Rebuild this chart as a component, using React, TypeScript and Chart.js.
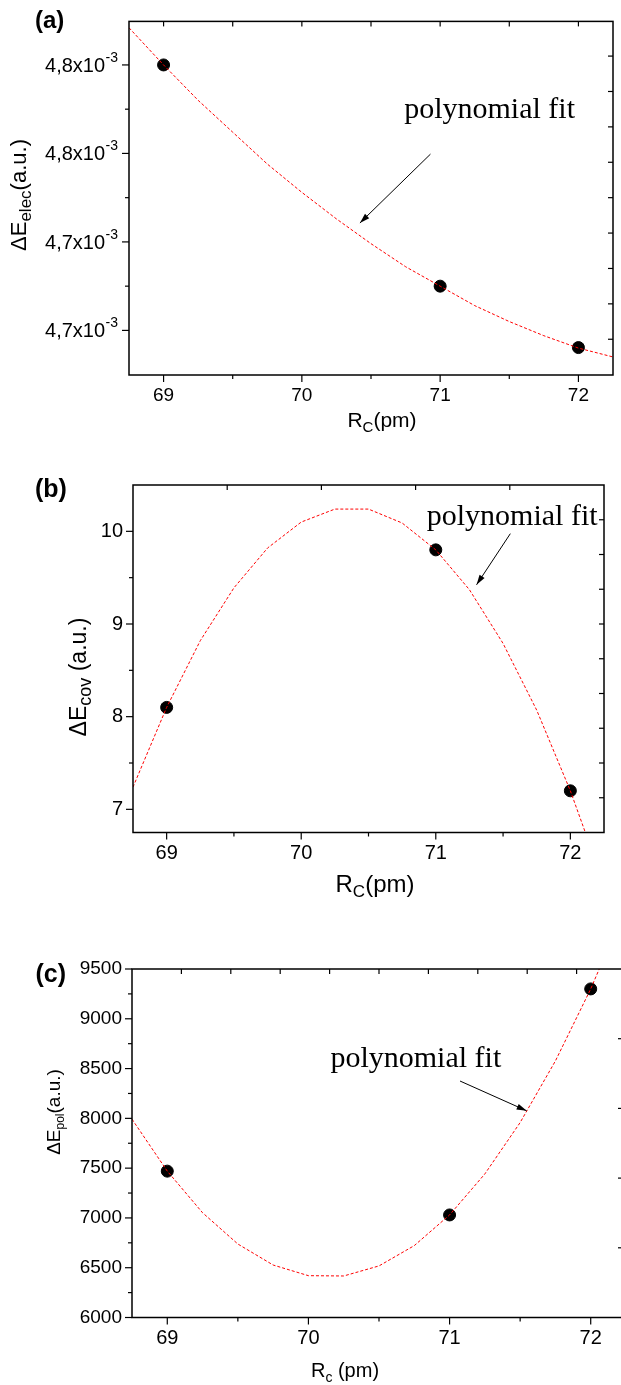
import React, { useEffect, useRef } from "react";
import { Chart, registerables } from "chart.js";

Chart.register(...registerables);

const SANS = '"Liberation Sans", Arial, sans-serif';
const SERIF = '"Liberation Serif", "Times New Roman", serif';

// ---------- shared x axis: R_C (pm)
const rcMajorTicks = [69, 70, 71, 72];
const rcMinorTicks = [69.5, 70.5, 71.5];

// ---------- panel (a): ΔE_elec
const aRc = [69, 71, 72];
const aElec = [4.8e-3, 4.675e-3, 4.6403e-3];
const aFitRc = [68.75, 69, 69.25, 69.5, 69.75, 70, 70.25, 70.5, 70.75, 71, 71.25, 71.5, 71.75, 72, 72.25];
const aFitElec = [4.821e-3, 4.8e-3, 4.78e-3, 4.762e-3, 4.744e-3, 4.728e-3, 4.713e-3, 4.699e-3, 4.686e-3, 4.675e-3, 4.664e-3, 4.655e-3, 4.647e-3, 4.64e-3, 4.635e-3];
const aYMajor = [4.8e-3, 4.75e-3, 4.7e-3, 4.65e-3];
const aYMinor = [4.775e-3, 4.725e-3, 4.675e-3];
const aYTickMain = ["4,8x10", "4,8x10", "4,7x10", "4,7x10"];
const aYTickExp = ["-3", "-3", "-3", "-3"];
const aTopTicks = [69, 69.5, 70, 70.5, 71, 71.5, 72];
const aRightTicks = [4.645e-3, 4.665e-3, 4.685e-3, 4.705e-3, 4.725e-3, 4.745e-3, 4.765e-3, 4.785e-3, 4.805e-3];

// ---------- panel (b): ΔE_cov
const bRc = [69, 71, 72];
const bCov = [8.1, 9.8, 7.2];
const bFitRc = [68.75, 69, 69.25, 69.5, 69.75, 70, 70.25, 70.5, 70.75, 71, 71.25, 71.5, 71.75, 72, 72.25];
const bFitCov = [7.24, 8.1, 8.82, 9.39, 9.82, 10.1, 10.24, 10.24, 10.09, 9.8, 9.37, 8.79, 8.07, 7.2, 6.19];
const bYMajor = [7, 8, 9, 10];
const bYMinor = [7.5, 8.5, 9.5];
const bTopTicks = [69.45, 70.15, 70.85, 71.55];
const bRightTicks = [7.125, 7.5, 7.875, 8.25, 8.625, 9, 9.375, 9.75, 10.125];

// ---------- panel (c): ΔE_pol
const cRc = [69, 71, 72];
const cPol = [7470, 7030, 9300];
const cFitRc = [68.75, 69, 69.25, 69.5, 69.75, 70, 70.25, 70.5, 70.75, 71, 71.25, 71.5, 71.75, 72, 72.25];
const cFitPol = [7992, 7470, 7052, 6738, 6527, 6420, 6417, 6518, 6722, 7030, 7442, 7958, 8577, 9300, 10127];
const cYMajor = [6000, 6500, 7000, 7500, 8000, 8500, 9000, 9500];
const cYMinor = [6250, 6750, 7250, 7750, 8250, 8750, 9250];
const cTopTicks = [69.1, 69.45, 69.8, 70.15, 70.5, 70.85, 71.2, 71.55, 71.9];
const cRightTicks = [6700, 7400, 8100, 8800];
const cRightMinorTicks = [6350, 7050, 7750, 8450, 9150];

const noteText = "polynomial fit";

type Part = { t: string; size: number; dy?: number };

function drawRich(ctx: CanvasRenderingContext2D, parts: Part[], x: number, y: number, align: string, weight = "normal") {
  let total = 0;
  const widths: number[] = [];
  for (const p of parts) {
    ctx.font = `${weight} ${p.size}px ${SANS}`;
    const w = ctx.measureText(p.t).width;
    widths.push(w);
    total += w;
  }
  let cx = align === "center" ? x - total / 2 : align === "right" ? x - total : x;
  ctx.textAlign = "left";
  ctx.textBaseline = "alphabetic";
  parts.forEach((p, i) => {
    ctx.font = `${weight} ${p.size}px ${SANS}`;
    ctx.fillText(p.t, cx, y + (p.dy || 0));
    cx += widths[i];
  });
}

function seg(ctx: CanvasRenderingContext2D, x1: number, y1: number, x2: number, y2: number) {
  ctx.beginPath();
  ctx.moveTo(x1, y1);
  ctx.lineTo(x2, y2);
  ctx.stroke();
}

const panels: any[] = [
  {
    name: "a",
    top: 0, width: 621, height: 450,
    area: { l: 129, r: 613, t: 10, b: 375 },
    xMin: 68.75, xMax: 72.25, yMin: 4.6248e-3, yMax: 4.8246e-3,
    x: aRc, y: aElec, fitX: aFitRc, fitY: aFitElec,
    yMajor: aYMajor, yMinor: aYMinor, topTicks: aTopTicks, rightTicks: aRightTicks, rightMinor: [],
    yLabel: () => "", yFont: 19, yPad: 10, xFont: 19, xPad: 9,
    customY: true,
    label: { t: "(a)", x: 35, y: 28, size: 24 },
    yTitle: { x: 26, y: 195, parts: [{ t: "ΔE", size: 22 }, { t: "elec", size: 17, dy: 5 }, { t: "(a.u.)", size: 22 }] },
    xTitle: { x: 382, y: 427, parts: [{ t: "R", size: 21 }, { t: "C", size: 15, dy: 5 }, { t: "(pm)", size: 21 }] },
    note: [70.74, 4.77e-3],
    arrow: [70.93, 4.7496e-3, 70.42, 4.7107e-3],
  },
  {
    name: "b",
    top: 450, width: 621, height: 450,
    area: { l: 133, r: 604, t: 485, b: 832.5 },
    xMin: 68.75, xMax: 72.25, yMin: 6.75, yMax: 10.5,
    x: bRc, y: bCov, fitX: bFitRc, fitY: bFitCov,
    yMajor: bYMajor, yMinor: bYMinor, topTicks: bTopTicks, rightTicks: bRightTicks, rightMinor: [],
    yLabel: (v: number) => String(v), yFont: 20, yPad: 10, xFont: 20, xPad: 9,
    customY: false,
    label: { t: "(b)", x: 35, y: 497, size: 25 },
    yTitle: { x: 86, y: 677, parts: [{ t: "ΔE", size: 23 }, { t: "cov", size: 18, dy: 5 }, { t: " (a.u.)", size: 23 }] },
    xTitle: { x: 375, y: 892, parts: [{ t: "R", size: 24 }, { t: "C", size: 17, dy: 5 }, { t: "(pm)", size: 24 }] },
    note: [70.933, 10.07],
    arrow: [71.554, 9.975, 71.303, 9.423],
  },
  {
    name: "c",
    top: 900, width: 640, height: 485,
    area: { l: 132, r: 626, t: 969, b: 1317.5 },
    xMin: 68.75, xMax: 72.25, yMin: 6000, yMax: 9500,
    x: cRc, y: cPol, fitX: cFitRc, fitY: cFitPol,
    yMajor: cYMajor, yMinor: cYMinor, topTicks: cTopTicks, rightTicks: cRightTicks, rightMinor: cRightMinorTicks,
    yLabel: (v: number) => String(v), yFont: 19, yPad: 10, xFont: 20, xPad: 9,
    customY: false,
    label: { t: "(c)", x: 35.5, y: 982, size: 25 },
    yTitle: { x: 59.5, y: 1112, parts: [{ t: "ΔE", size: 19 }, { t: "pol", size: 12, dy: 4 }, { t: "(a.u.)", size: 19 }] },
    xTitle: { x: 345, y: 1377, parts: [{ t: "R", size: 20 }, { t: "c", size: 14, dy: 5 }, { t: " (pm)", size: 20 }] },
    note: [70.156, 8518],
    arrow: [71.074, 8375, 71.546, 8076],
  },
];

function buildChart(canvas: HTMLCanvasElement, s: any) {
  const off = s.top;
  const decor = {
    id: "decor_" + s.name,
    afterDraw(chart: any) {
      const ctx: CanvasRenderingContext2D = chart.ctx;
      const ca = chart.chartArea;
      const xs = chart.scales.x;
      const ys = chart.scales.y;
      ctx.save();
      ctx.strokeStyle = "#000";
      ctx.fillStyle = "#000";
      // frame
      ctx.lineWidth = 1.5;
      ctx.strokeRect(ca.left, ca.top, ca.right - ca.left, ca.bottom - ca.top);
      // ticks
      ctx.lineWidth = 1.2;
      for (const v of rcMajorTicks) { const p = xs.getPixelForValue(v); seg(ctx, p, ca.bottom, p, ca.bottom + 7); }
      for (const v of rcMinorTicks) { const p = xs.getPixelForValue(v); seg(ctx, p, ca.bottom, p, ca.bottom + 4); }
      for (const v of s.yMajor) { const p = ys.getPixelForValue(v); seg(ctx, ca.left - 7, p, ca.left, p); }
      for (const v of s.yMinor) { const p = ys.getPixelForValue(v); seg(ctx, ca.left - 4, p, ca.left, p); }
      for (const v of s.topTicks) { const p = xs.getPixelForValue(v); seg(ctx, p, ca.top, p, ca.top + 5); }
      const rLen = s.rightMinor.length ? 8 : 5;
      for (const v of s.rightTicks) { const p = ys.getPixelForValue(v); seg(ctx, ca.right - rLen, p, ca.right, p); }
      for (const v of s.rightMinor) { const p = ys.getPixelForValue(v); seg(ctx, ca.right - 4, p, ca.right, p); }
      // custom y labels with exponent (panel a)
      if (s.customY) {
        s.yMajor.forEach((v: number, i: number) => {
          const p = ys.getPixelForValue(v);
          const right = ca.left - 11;
          ctx.font = `14px ${SANS}`;
          ctx.textAlign = "right";
          ctx.textBaseline = "alphabetic";
          const ew = ctx.measureText(aYTickExp[i]).width;
          ctx.fillText(aYTickExp[i], right, p - 3);
          ctx.font = `20px ${SANS}`;
          ctx.fillText(aYTickMain[i], right - ew - 0.5, p + 7);
        });
      }
      // panel label
      drawRich(ctx, [{ t: s.label.t, size: s.label.size }], s.label.x, s.label.y - off, "left", "bold");
      // axis titles
      drawRich(ctx, s.xTitle.parts, s.xTitle.x, s.xTitle.y - off, "center");
      ctx.save();
      ctx.translate(s.yTitle.x, s.yTitle.y - off);
      ctx.rotate(-Math.PI / 2);
      drawRich(ctx, s.yTitle.parts, 0, 0, "center");
      ctx.restore();
      // annotation
      ctx.font = `30px ${SERIF}`;
      ctx.textAlign = "left";
      ctx.textBaseline = "alphabetic";
      ctx.fillText(noteText, xs.getPixelForValue(s.note[0]), ys.getPixelForValue(s.note[1]));
      const x1 = xs.getPixelForValue(s.arrow[0]);
      const y1 = ys.getPixelForValue(s.arrow[1]);
      const x2 = xs.getPixelForValue(s.arrow[2]);
      const y2 = ys.getPixelForValue(s.arrow[3]);
      ctx.lineWidth = 1;
      seg(ctx, x1, y1, x2, y2);
      const ang = Math.atan2(y2 - y1, x2 - x1);
      const L = 10, W = 3;
      const c = Math.cos(ang), sn = Math.sin(ang);
      ctx.beginPath();
      ctx.moveTo(x2, y2);
      ctx.lineTo(x2 - L * c + W * sn, y2 - L * sn - W * c);
      ctx.lineTo(x2 - L * c - W * sn, y2 - L * sn + W * c);
      ctx.closePath();
      ctx.fill();
      ctx.restore();
    },
  };

  return new Chart(canvas, {
    type: "scatter",
    data: {
      datasets: [
        {
          label: "fit",
          data: s.fitX.map((v: number, i: number) => ({ x: v, y: s.fitY[i] })),
          showLine: true,
          borderColor: "rgb(255,0,0)",
          backgroundColor: "rgb(255,0,0)",
          borderWidth: 1,
          borderDash: [3, 2],
          pointRadius: 0,
          tension: 0,
          order: 0,
        },
        {
          label: "data",
          data: s.x.map((v: number, i: number) => ({ x: v, y: s.y[i] })),
          pointRadius: 6,
          pointBackgroundColor: "#000",
          pointBorderColor: "#000",
          backgroundColor: "#000",
          borderColor: "#000",
          order: 1,
        },
      ],
    },
    options: {
      animation: false,
      responsive: false,
      maintainAspectRatio: false,
      events: [],
      layout: { padding: { left: 0, top: s.area.t - off, right: s.width - s.area.r, bottom: 0 } },
      plugins: { legend: { display: false }, tooltip: { enabled: false } },
      scales: {
        x: {
          type: "linear",
          min: s.xMin,
          max: s.xMax,
          afterBuildTicks: (sc: any) => { sc.ticks = rcMajorTicks.map((v) => ({ value: v })); },
          afterFit: (sc: any) => { sc.height = s.height - (s.area.b - off); },
          grid: { display: false, drawTicks: false },
          border: { display: false },
          ticks: {
            padding: s.xPad,
            color: "#000",
            autoSkip: false,
            maxRotation: 0,
            font: { family: SANS, size: s.xFont },
            callback: (v: any) => String(v),
          },
        },
        y: {
          type: "linear",
          min: s.yMin,
          max: s.yMax,
          afterBuildTicks: (sc: any) => { sc.ticks = s.yMajor.map((v: number) => ({ value: v })); },
          afterFit: (sc: any) => { sc.width = s.area.l; },
          grid: { display: false, drawTicks: false },
          border: { display: false },
          ticks: {
            padding: s.yPad,
            color: "#000",
            autoSkip: false,
            font: { family: SANS, size: s.yFont },
            callback: (v: any) => s.yLabel(v),
          },
        },
      },
    },
    plugins: [decor],
  } as any);
}

function Panel({ spec }: { spec: any }) {
  const ref = useRef<HTMLCanvasElement>(null);
  useEffect(() => {
    const chart = buildChart(ref.current as HTMLCanvasElement, spec);
    return () => chart.destroy();
  }, [spec]);
  return (
    <canvas
      ref={ref}
      width={spec.width}
      height={spec.height}
      style={{ position: "absolute", left: 0, top: spec.top, width: spec.width, height: spec.height }}
    />
  );
}

export default function App() {
  return (
    <div
      style={{
        position: "absolute",
        left: 0,
        top: 0,
        width: 621,
        height: 1385,
        overflow: "hidden",
        background: "#fff",
      }}
    >
      {panels.map((p) => (
        <Panel key={p.name} spec={p} />
      ))}
    </div>
  );
}
